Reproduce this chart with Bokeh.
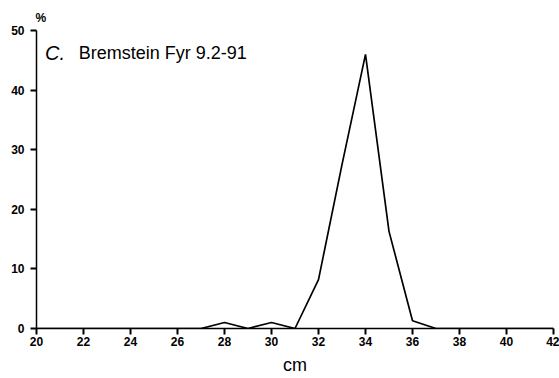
from bokeh.plotting import figure
from bokeh.models import Range1d, FixedTicker, Label
from bokeh.embed import file_html
from bokeh.resources import INLINE

# Length distribution, Bremstein Fyr 9.2-91
length_cm = [20, 21, 22, 23, 24, 25, 26, 27, 28, 29, 30, 31,
             32, 33, 34, 35, 36, 37, 38, 39, 40, 41, 42]
percent = [0, 0, 0, 0, 0, 0, 0, 0, 1.0, 0, 1.0, 0,
           8.2, 27.5, 46.0, 16.3, 1.3, 0, 0, 0, 0, 0, 0]
x_ticks = [20, 22, 24, 26, 28, 30, 32, 34, 36, 38, 40, 42]
y_ticks = [0, 10, 20, 30, 40, 50]

FONT = "Liberation Sans"

p = figure(width=559, height=378, output_backend="svg", toolbar_location=None,
           x_range=Range1d(20, 42), y_range=Range1d(0, 50),
           min_border_left=36, min_border_right=6,
           min_border_top=30, min_border_bottom=50)
p.outline_line_color = None
p.grid.visible = False
p.background_fill_color = "white"
p.border_fill_color = "white"

# "%" unit marker sits above the y axis
p.title.text = "%"
p.title.align = "left"
p.title.offset = -1
p.title.text_font = FONT
p.title.text_font_style = "bold"
p.title.text_font_size = "12px"
p.title.text_color = "black"
p.title.standoff = 11

p.line(length_cm, percent, line_color="black", line_width=1.7)

for ax in (p.xaxis, p.yaxis):
    ax.axis_line_color = "black"
    ax.axis_line_width = 1.5
    ax.major_tick_line_color = "black"
    ax.major_tick_line_width = 2
    ax.major_tick_out = 6
    ax.major_tick_in = 0
    ax.minor_tick_line_color = None
    ax.major_label_text_font = FONT
    ax.major_label_text_font_style = "bold"
    ax.major_label_text_font_size = "12px"
    ax.major_label_text_color = "black"

p.xaxis.ticker = FixedTicker(ticks=x_ticks)
p.yaxis.ticker = FixedTicker(ticks=y_ticks)
p.xaxis.major_label_standoff = 2
p.yaxis.major_label_standoff = 6

p.xaxis.axis_label = "cm"
p.xaxis.axis_label_text_font = FONT
p.xaxis.axis_label_text_font_style = "normal"
p.xaxis.axis_label_text_font_size = "18px"
p.xaxis.axis_label_text_color = "black"
p.xaxis.axis_label_standoff = 6

p.add_layout(Label(x=20.36, y=46.3, text="C.", text_font=FONT, text_font_style="italic",
                   text_font_size="20px", text_color="black", text_baseline="middle"))
p.add_layout(Label(x=21.8, y=46.3, text="Bremstein Fyr 9.2-91", text_font=FONT,
                   text_font_size="18px", text_color="black", text_baseline="middle"))

open("out.html", "w").write(file_html(p, INLINE))
